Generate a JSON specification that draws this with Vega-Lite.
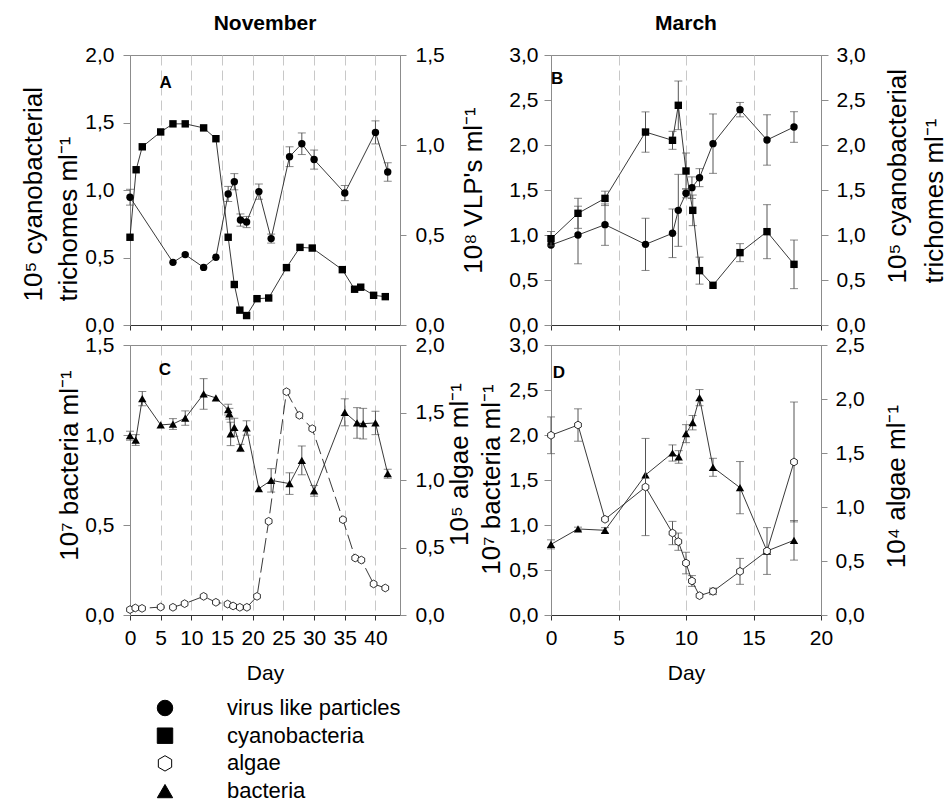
{
  "$schema": "https://vega.github.io/schema/vega-lite/v6.json",
  "autosize": {"type": "pad"},
  "padding": {"left": 19, "top": 12, "right": 0, "bottom": 0},
  "config": {
    "font": "Liberation Sans",
    "view": {"stroke": "#8c8c8c"},
    "axis": {
      "labelFont": "Liberation Sans", "titleFont": "Liberation Sans",
      "labelFontSize": 21, "titleFontSize": 26, "titleFontWeight": "normal",
      "labelColor": "black", "titleColor": "black",
      "domainColor": "#8c8c8c", "tickColor": "#8c8c8c",
      "labelFlush": false, "labelOverlap": false, "grid": false
    },
    "title": {"font": "Liberation Sans", "fontSize": 21, "fontWeight": "bold", "offset": 10, "color": "black"},
    "text": {"font": "Liberation Sans"}
  },
  "datasets": {
    "nov_cyano": [
      {"day": 0, "value": 0.65}, {"day": 1, "value": 1.15}, {"day": 2, "value": 1.32},
      {"day": 5, "value": 1.43}, {"day": 7, "value": 1.49}, {"day": 9, "value": 1.49},
      {"day": 12, "value": 1.46}, {"day": 14, "value": 1.38}, {"day": 16, "value": 0.65},
      {"day": 17, "value": 0.30}, {"day": 17.9, "value": 0.11}, {"day": 19, "value": 0.07},
      {"day": 20.7, "value": 0.195}, {"day": 22.6, "value": 0.2}, {"day": 25.5, "value": 0.425},
      {"day": 27.7, "value": 0.575}, {"day": 29.7, "value": 0.57}, {"day": 34.6, "value": 0.41},
      {"day": 36.6, "value": 0.265}, {"day": 37.6, "value": 0.28}, {"day": 39.7, "value": 0.22},
      {"day": 41.6, "value": 0.21}
    ],
    "nov_vlp": [
      {"day": 0, "value": 0.71, "err": 0.044}, {"day": 7, "value": 0.348, "err": 0},
      {"day": 9, "value": 0.391, "err": 0}, {"day": 12, "value": 0.32, "err": 0},
      {"day": 14, "value": 0.376, "err": 0}, {"day": 16, "value": 0.728, "err": 0.042},
      {"day": 17, "value": 0.796, "err": 0.045}, {"day": 18, "value": 0.583, "err": 0.034},
      {"day": 19, "value": 0.572, "err": 0.031}, {"day": 21, "value": 0.741, "err": 0.042},
      {"day": 23, "value": 0.48, "err": 0.025}, {"day": 26, "value": 0.935, "err": 0.055},
      {"day": 28, "value": 1.007, "err": 0.06}, {"day": 30, "value": 0.919, "err": 0.053},
      {"day": 35, "value": 0.733, "err": 0.042}, {"day": 40, "value": 1.07, "err": 0.064},
      {"day": 42, "value": 0.85, "err": 0.051}
    ],
    "nov_bact": [
      {"day": 0, "value": 0.996, "err": 0.025}, {"day": 0.93, "value": 0.972, "err": 0.03},
      {"day": 2, "value": 1.202, "err": 0.04}, {"day": 5, "value": 1.056, "err": 0},
      {"day": 7, "value": 1.061, "err": 0.03}, {"day": 9, "value": 1.094, "err": 0.04},
      {"day": 12, "value": 1.228, "err": 0.085}, {"day": 14, "value": 1.206, "err": 0},
      {"day": 16, "value": 1.141, "err": 0.03}, {"day": 16.2, "value": 1.118, "err": 0.03},
      {"day": 16.4, "value": 1.006, "err": 0.065}, {"day": 17, "value": 1.043, "err": 0.05},
      {"day": 18, "value": 0.928, "err": 0.02}, {"day": 19, "value": 1.039, "err": 0.04},
      {"day": 21, "value": 0.702, "err": 0}, {"day": 23, "value": 0.748, "err": 0.065},
      {"day": 26, "value": 0.73, "err": 0.06}, {"day": 28, "value": 0.859, "err": 0.08},
      {"day": 30, "value": 0.69, "err": 0.03}, {"day": 35, "value": 1.126, "err": 0.075},
      {"day": 37, "value": 1.067, "err": 0.085}, {"day": 38, "value": 1.063, "err": 0.085},
      {"day": 40, "value": 1.067, "err": 0.065}, {"day": 42, "value": 0.785, "err": 0.025}
    ],
    "nov_algae": [
      {"day": 0, "value": 0.04}, {"day": 0.87, "value": 0.052}, {"day": 1.96, "value": 0.049},
      {"day": 5, "value": 0.059}, {"day": 7, "value": 0.057}, {"day": 8.9, "value": 0.084},
      {"day": 12, "value": 0.138}, {"day": 14, "value": 0.094}, {"day": 15.9, "value": 0.081},
      {"day": 16.8, "value": 0.067}, {"day": 17.9, "value": 0.057}, {"day": 19.05, "value": 0.057},
      {"day": 20.7, "value": 0.138}, {"day": 22.6, "value": 0.694}, {"day": 25.5, "value": 1.654},
      {"day": 27.6, "value": 1.479}, {"day": 29.7, "value": 1.38}, {"day": 34.7, "value": 0.706},
      {"day": 36.7, "value": 0.422}, {"day": 37.7, "value": 0.407}, {"day": 39.7, "value": 0.23},
      {"day": 41.6, "value": 0.2}
    ],
    "mar_vlp": [
      {"day": 0, "value": 0.889, "err": 0}, {"day": 2, "value": 1.0, "err": 0.32},
      {"day": 4, "value": 1.115, "err": 0.23}, {"day": 7, "value": 0.896, "err": 0.29},
      {"day": 9, "value": 1.019, "err": 0.27}, {"day": 9.43, "value": 1.274, "err": 0.4},
      {"day": 10, "value": 1.463, "err": 0.05}, {"day": 10.44, "value": 1.526, "err": 0.12},
      {"day": 11, "value": 1.637, "err": 0.1}, {"day": 12, "value": 2.015, "err": 0.33},
      {"day": 14, "value": 2.393, "err": 0.08}, {"day": 16, "value": 2.056, "err": 0.28},
      {"day": 18, "value": 2.2, "err": 0.17}
    ],
    "mar_cyano": [
      {"day": 0, "value": 0.959, "err": 0.08}, {"day": 2, "value": 1.241, "err": 0.167},
      {"day": 4, "value": 1.407, "err": 0.08}, {"day": 7, "value": 2.144, "err": 0.224},
      {"day": 9, "value": 2.052, "err": 0.1}, {"day": 9.43, "value": 2.441, "err": 0.27},
      {"day": 10, "value": 1.711, "err": 0.2}, {"day": 10.5, "value": 1.274, "err": 0.17},
      {"day": 11, "value": 0.604, "err": 0.15}, {"day": 12, "value": 0.441, "err": 0},
      {"day": 14, "value": 0.804, "err": 0.1}, {"day": 16, "value": 1.037, "err": 0.3},
      {"day": 18, "value": 0.674, "err": 0.27}
    ],
    "mar_bact": [
      {"day": 0, "value": 0.785, "err": 0.05}, {"day": 2, "value": 0.956, "err": 0.02},
      {"day": 4, "value": 0.941, "err": 0.03}, {"day": 7, "value": 1.556, "err": 0},
      {"day": 9, "value": 1.8, "err": 0.09}, {"day": 9.46, "value": 1.756, "err": 0.07},
      {"day": 10, "value": 2.015, "err": 0.1}, {"day": 10.49, "value": 2.137, "err": 0.08},
      {"day": 11, "value": 2.415, "err": 0.09}, {"day": 12, "value": 1.641, "err": 0.1},
      {"day": 14, "value": 1.415, "err": 0.29}, {"day": 16, "value": 0.711, "err": 0.26},
      {"day": 18, "value": 0.83, "err": 0.22}
    ],
    "mar_algae": [
      {"day": 0, "value": 1.664, "err": 0.17}, {"day": 2, "value": 1.759, "err": 0.15},
      {"day": 4, "value": 0.886, "err": 0}, {"day": 7, "value": 1.185, "err": 0.45},
      {"day": 9, "value": 0.759, "err": 0.108}, {"day": 9.43, "value": 0.679, "err": 0.08},
      {"day": 10, "value": 0.481, "err": 0.1}, {"day": 10.44, "value": 0.315, "err": 0.05},
      {"day": 11, "value": 0.179, "err": 0}, {"day": 12, "value": 0.219, "err": 0.03},
      {"day": 14, "value": 0.404, "err": 0.12}, {"day": 16, "value": 0.593, "err": 0},
      {"day": 18, "value": 1.417, "err": 0.555}
    ],
    "legend": [
      {"series": "virus like particles", "order": 1},
      {"series": "cyanobacteria", "order": 2},
      {"series": "algae", "order": 3},
      {"series": "bacteria", "order": 4}
    ]
  },
  "columns": 2,
  "spacing": {"row": 20, "column": 151},
  "bounds": "flush",
  "concat": [
    {
      "width": 270, "height": 270,
      "title": {"text": "November"},
      "encoding": {
        "x": {"field": "day", "type": "quantitative", "scale": {"domain": [0, 44], "nice": false, "zero": false},
          "axis": {"values": [0, 5, 10, 15, 20, 25, 30, 35, 40], "labels": false, "tickSize": 5, "domainColor": "#333", "tickColor": "#333",
            "grid": true, "gridDash": [10, 5], "gridColor": "#c8c8c8", "gridOpacity": {"condition": {"test": "datum.value === 0", "value": 0}, "value": 1}, "title": null}}
      },
      "layer": [
        {
          "encoding": {"y": {"field": "value", "type": "quantitative", "scale": {"domain": [0, 2], "nice": false},
            "axis": {"orient": "left", "values": [0, 0.5, 1, 1.5, 2], "labelExpr": "replace(format(datum.value, '.1f'), '.', ',')",
              "tickSize": 7, "labelPadding": 9, "title": ["10⁵ cyanobacterial", "trichomes ml⁻¹"], "titleAngle": 270,
              "titleAlign": "left", "titleBaseline": "middle", "titleX": -97, "titleY": 246, "titleLineHeight": 35}}},
          "layer": [
            {"data": {"name": "nov_cyano"}, "mark": {"type": "line", "color": "#222", "strokeWidth": 0.9}},
            {"data": {"name": "nov_cyano"}, "mark": {"type": "point", "shape": "square", "filled": true, "fill": "black", "opacity": 1, "size": 55}},
            {"data": {"values": [{"panel": "A", "day": 5.8, "value": 1.79}]}, "mark": {"type": "text", "fontSize": 17, "fontWeight": "bold", "align": "center", "baseline": "middle", "color": "black"},
              "encoding": {"text": {"field": "panel", "type": "nominal"}}}
          ]
        },
        {
          "encoding": {"y": {"field": "value", "type": "quantitative", "scale": {"domain": [0, 1.5], "nice": false},
            "axis": {"orient": "right", "values": [0, 0.5, 1, 1.5], "labelExpr": "replace(format(datum.value, '.1f'), '.', ',')",
              "tickSize": 6, "labelPadding": 9, "title": "10⁸ VLP's ml⁻¹", "titleAngle": 270,
              "titleAlign": "center", "titleBaseline": "middle", "titleX": 73, "titleY": 135}}},
          "layer": [
            {"data": {"name": "nov_vlp"}, "transform": [{"filter": "datum.err > 0"}], "mark": {"type": "errorbar", "ticks": true, "size": 8, "thickness": 1, "color": "#555"}, "encoding": {"yError": {"field": "err"}}},
            {"data": {"name": "nov_vlp"}, "mark": {"type": "line", "color": "#222", "strokeWidth": 0.9}},
            {"data": {"name": "nov_vlp"}, "mark": {"type": "point", "shape": "circle", "filled": true, "fill": "black", "opacity": 1, "size": 55}}
          ]
        }
      ],
      "resolve": {"scale": {"y": "independent"}}
    },
    {
      "width": 270, "height": 270,
      "title": {"text": "March"},
      "encoding": {
        "x": {"field": "day", "type": "quantitative", "scale": {"domain": [0, 20], "nice": false, "zero": false},
          "axis": {"values": [0, 5, 10, 15, 20], "labels": false, "tickSize": 5, "domainColor": "#333", "tickColor": "#333",
            "grid": true, "gridDash": [10, 5], "gridColor": "#c8c8c8", "gridOpacity": {"condition": {"test": "datum.value === 0 || datum.value === 20", "value": 0}, "value": 1}, "title": null}}
      },
      "layer": [
        {
          "encoding": {"y": {"field": "value", "type": "quantitative", "scale": {"domain": [0, 3], "nice": false},
            "axis": {"orient": "left", "values": [0, 0.5, 1, 1.5, 2, 2.5, 3], "labelExpr": "replace(format(datum.value, '.1f'), '.', ',')",
              "tickSize": 7, "labelPadding": 6, "title": null}}},
          "layer": [
            {"data": {"name": "mar_vlp"}, "transform": [{"filter": "datum.err > 0"}], "mark": {"type": "errorbar", "ticks": true, "size": 8, "thickness": 1, "color": "#555"}, "encoding": {"yError": {"field": "err"}}},
            {"data": {"name": "mar_vlp"}, "mark": {"type": "line", "color": "#222", "strokeWidth": 0.9}},
            {"data": {"name": "mar_vlp"}, "mark": {"type": "point", "shape": "circle", "filled": true, "fill": "black", "opacity": 1, "size": 55}},
            {"data": {"values": [{"panel": "B", "day": 0.45, "value": 2.73}]}, "mark": {"type": "text", "fontSize": 17, "fontWeight": "bold", "align": "center", "baseline": "middle", "color": "black"},
              "encoding": {"text": {"field": "panel", "type": "nominal"}}}
          ]
        },
        {
          "encoding": {"y": {"field": "value", "type": "quantitative", "scale": {"domain": [0, 3], "nice": false},
            "axis": {"orient": "right", "values": [0, 0.5, 1, 1.5, 2, 2.5, 3], "labelExpr": "replace(format(datum.value, '.1f'), '.', ',')",
              "tickSize": 7, "labelPadding": 8, "title": ["10⁵ cyanobacterial", "trichomes ml⁻¹"], "titleAngle": 270,
              "titleAlign": "left", "titleBaseline": "middle", "titleX": 76, "titleY": 228, "titleLineHeight": 37}}},
          "layer": [
            {"data": {"name": "mar_cyano"}, "transform": [{"filter": "datum.err > 0"}], "mark": {"type": "errorbar", "ticks": true, "size": 8, "thickness": 1, "color": "#555"}, "encoding": {"yError": {"field": "err"}}},
            {"data": {"name": "mar_cyano"}, "mark": {"type": "line", "color": "#222", "strokeWidth": 0.9}},
            {"data": {"name": "mar_cyano"}, "mark": {"type": "point", "shape": "square", "filled": true, "fill": "black", "opacity": 1, "size": 55}}
          ]
        }
      ],
      "resolve": {"scale": {"y": "independent"}}
    },
    {
      "width": 270, "height": 270,
      "encoding": {
        "x": {"field": "day", "type": "quantitative", "scale": {"domain": [0, 44], "nice": false, "zero": false},
          "axis": {"values": [0, 5, 10, 15, 20, 25, 30, 35, 40], "tickSize": 5, "labelPadding": 7, "domainColor": "#333", "tickColor": "#333",
            "grid": true, "gridDash": [10, 5], "gridColor": "#c8c8c8", "gridOpacity": {"condition": {"test": "datum.value === 0", "value": 0}, "value": 1},
            "title": "Day", "titleFontSize": 21, "titlePadding": 14}}
      },
      "layer": [
        {
          "encoding": {"y": {"field": "value", "type": "quantitative", "scale": {"domain": [0, 1.5], "nice": false},
            "axis": {"orient": "left", "values": [0, 0.5, 1, 1.5], "labelExpr": "replace(format(datum.value, '.1f'), '.', ',')",
              "tickSize": 7, "labelPadding": 9, "title": "10⁷ bacteria ml⁻¹", "titleAngle": 270,
              "titleAlign": "center", "titleBaseline": "middle", "titleX": -61, "titleY": 120}}},
          "layer": [
            {"data": {"name": "nov_bact"}, "transform": [{"filter": "datum.err > 0"}], "mark": {"type": "errorbar", "ticks": true, "size": 8, "thickness": 1, "color": "#555"}, "encoding": {"yError": {"field": "err"}}},
            {"data": {"name": "nov_bact"}, "mark": {"type": "line", "color": "#222", "strokeWidth": 0.9}},
            {"data": {"name": "nov_bact"}, "mark": {"type": "point", "shape": "triangle-up", "filled": true, "fill": "black", "opacity": 1, "size": 70}},
            {"data": {"values": [{"panel": "C", "day": 5.7, "value": 1.36}]}, "mark": {"type": "text", "fontSize": 17, "fontWeight": "bold", "align": "center", "baseline": "middle", "color": "black"},
              "encoding": {"text": {"field": "panel", "type": "nominal"}}}
          ]
        },
        {
          "encoding": {"y": {"field": "value", "type": "quantitative", "scale": {"domain": [0, 2], "nice": false},
            "axis": {"orient": "right", "values": [0, 0.5, 1, 1.5, 2], "labelExpr": "replace(format(datum.value, '.1f'), '.', ',')",
              "tickSize": 6, "labelPadding": 9, "title": "10⁵ algae ml⁻¹", "titleAngle": 270,
              "titleAlign": "center", "titleBaseline": "middle", "titleX": 59, "titleY": 119}}},
          "layer": [
            {"data": {"name": "nov_algae"}, "mark": {"type": "line", "color": "#222", "strokeWidth": 0.9, "strokeDash": [15, 5]}},
            {"data": {"name": "nov_algae"}, "mark": {"type": "point", "shape": "M0,-1L0.866,-0.5L0.866,0.5L0,1L-0.866,0.5L-0.866,-0.5Z", "filled": true, "fill": "white", "stroke": "black", "strokeWidth": 0.8, "opacity": 1, "size": 60}}
          ]
        }
      ],
      "resolve": {"scale": {"y": "independent"}}
    },
    {
      "width": 270, "height": 270,
      "encoding": {
        "x": {"field": "day", "type": "quantitative", "scale": {"domain": [0, 20], "nice": false, "zero": false},
          "axis": {"values": [0, 5, 10, 15, 20], "tickSize": 5, "labelPadding": 7, "domainColor": "#333", "tickColor": "#333",
            "grid": true, "gridDash": [10, 5], "gridColor": "#c8c8c8", "gridOpacity": {"condition": {"test": "datum.value === 0 || datum.value === 20", "value": 0}, "value": 1},
            "title": "Day", "titleFontSize": 21, "titlePadding": 14}}
      },
      "layer": [
        {
          "encoding": {"y": {"field": "value", "type": "quantitative", "scale": {"domain": [0, 3], "nice": false},
            "axis": {"orient": "left", "values": [0, 0.5, 1, 1.5, 2, 2.5, 3], "labelExpr": "replace(format(datum.value, '.1f'), '.', ',')",
              "tickSize": 7, "labelPadding": 6, "title": "10⁷ bacteria ml⁻¹", "titleAngle": 270,
              "titleAlign": "center", "titleBaseline": "middle", "titleX": -60, "titleY": 134}}},
          "layer": [
            {"data": {"name": "mar_bact"}, "transform": [{"filter": "datum.err > 0"}], "mark": {"type": "errorbar", "ticks": true, "size": 8, "thickness": 1, "color": "#555"}, "encoding": {"yError": {"field": "err"}}},
            {"data": {"name": "mar_bact"}, "mark": {"type": "line", "color": "#222", "strokeWidth": 0.9}},
            {"data": {"name": "mar_bact"}, "mark": {"type": "point", "shape": "triangle-up", "filled": true, "fill": "black", "opacity": 1, "size": 70}},
            {"data": {"values": [{"panel": "D", "day": 0.59, "value": 2.69}]}, "mark": {"type": "text", "fontSize": 17, "fontWeight": "bold", "align": "center", "baseline": "middle", "color": "black"},
              "encoding": {"text": {"field": "panel", "type": "nominal"}}}
          ]
        },
        {
          "encoding": {"y": {"field": "value", "type": "quantitative", "scale": {"domain": [0, 2.5], "nice": false},
            "axis": {"orient": "right", "values": [0, 0.5, 1, 1.5, 2, 2.5], "labelExpr": "replace(format(datum.value, '.1f'), '.', ',')",
              "tickSize": 6, "labelPadding": 8, "title": "10⁴ algae ml⁻¹", "titleAngle": 270,
              "titleAlign": "center", "titleBaseline": "middle", "titleX": 75, "titleY": 141}}},
          "layer": [
            {"data": {"name": "mar_algae"}, "transform": [{"filter": "datum.err > 0"}], "mark": {"type": "errorbar", "ticks": true, "size": 8, "thickness": 1, "color": "#555"}, "encoding": {"yError": {"field": "err"}}},
            {"data": {"name": "mar_algae"}, "mark": {"type": "line", "color": "#222", "strokeWidth": 0.9}},
            {"data": {"name": "mar_algae"}, "mark": {"type": "point", "shape": "M0,-1L0.866,-0.5L0.866,0.5L0,1L-0.866,0.5L-0.866,-0.5Z", "filled": true, "fill": "white", "stroke": "black", "strokeWidth": 0.8, "opacity": 1, "size": 60}}
          ]
        }
      ],
      "resolve": {"scale": {"y": "independent"}}
    },
    {
      "width": 270, "height": 170,
      "view": {"stroke": null},
      "data": {"name": "legend"},
      "encoding": {
        "y": {"field": "order", "type": "quantitative", "scale": {"domain": [-1.635, 4.502], "reverse": true, "nice": false, "zero": false}, "axis": null}
      },
      "layer": [
        {"mark": {"type": "point", "filled": true, "stroke": "black", "strokeWidth": 1, "opacity": 1},
          "encoding": {
            "x": {"datum": 35, "type": "quantitative", "scale": {"domain": [0, 270], "nice": false, "zero": false}, "axis": null},
            "shape": {"field": "series", "type": "nominal", "scale": {"domain": ["virus like particles", "cyanobacteria", "algae", "bacteria"], "range": ["circle", "square", "M0,-1L0.866,-0.5L0.866,0.5L0,1L-0.866,0.5L-0.866,-0.5Z", "triangle-up"]}, "legend": null},
            "fill": {"field": "series", "type": "nominal", "scale": {"domain": ["virus like particles", "cyanobacteria", "algae", "bacteria"], "range": ["black", "black", "white", "black"]}, "legend": null},
            "size": {"field": "series", "type": "nominal", "scale": {"domain": ["virus like particles", "cyanobacteria", "algae", "bacteria"], "range": [240, 235, 300, 324]}, "legend": null}
          }},
        {"mark": {"type": "text", "align": "left", "baseline": "middle", "fontSize": 22, "color": "black"},
          "encoding": {"x": {"datum": 97, "type": "quantitative"}, "text": {"field": "series"}}}
      ]
    }
  ]
}
